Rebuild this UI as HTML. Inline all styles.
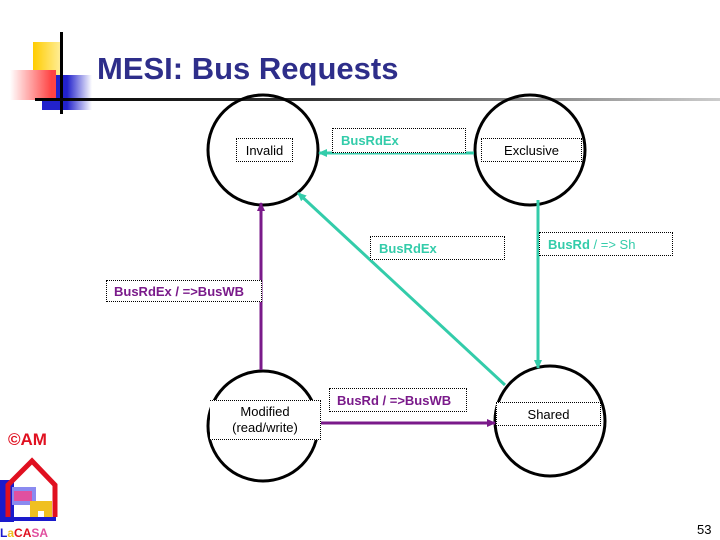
<!DOCTYPE html>
<html><head><meta charset="utf-8"><style>
body{margin:0;width:720px;height:540px;background:#fff;overflow:hidden;font-family:"Liberation Sans",sans-serif;position:relative}
.a{position:absolute}
.lb{position:absolute;background:#fff;border:1px dotted #000;box-sizing:border-box;font-size:13px;display:flex;align-items:center}
</style></head><body>
<div class="a" style="left:33px;top:42px;width:28px;height:34px;background:linear-gradient(90deg,#fc0,#fe9)"></div>
<div class="a" style="left:42px;top:75px;width:50px;height:35px;background:linear-gradient(90deg,#22c,#22c 50%,#fff)"></div>
<div class="a" style="left:10px;top:70px;width:46px;height:30px;background:linear-gradient(90deg,#fff,#f44 90%)"></div>
<div class="a" style="left:60px;top:32px;width:3px;height:82px;background:#000"></div>
<div class="a" style="left:35px;top:98px;width:685px;height:3px;background:linear-gradient(90deg,#000,#333 40%,#ccc)"></div>
<div class="a" style="left:97px;top:51px;font-size:31px;font-weight:bold;color:#2e2e8a">MESI: Bus Requests</div>

<svg class="a" style="left:0;top:0" width="720" height="540">
<defs>
<marker id="t" markerUnits="userSpaceOnUse" markerWidth="9" markerHeight="8" refX="8" refY="4" orient="auto"><path d="M0,0L9,4L0,8z" fill="#33ccaa"/></marker>
<marker id="p" markerUnits="userSpaceOnUse" markerWidth="9" markerHeight="8" refX="8" refY="4" orient="auto"><path d="M0,0L9,4L0,8z" fill="#7a1a8a"/></marker>
</defs>
<g fill="none" stroke="#000" stroke-width="3">
<circle cx="263" cy="150" r="55"/><circle cx="530" cy="150" r="55"/>
<circle cx="263" cy="426" r="55"/><circle cx="550" cy="421" r="55"/>
</g>
<g stroke="#33ccaa" stroke-width="3">
<line x1="474" y1="153" x2="319" y2="153" marker-end="url(#t)"/>
<line x1="505" y1="385" x2="298" y2="193" marker-end="url(#t)"/>
<line x1="538" y1="200" x2="538" y2="368" marker-end="url(#t)"/>
</g>
<g stroke="#7a1a8a" stroke-width="3">
<line x1="261" y1="370" x2="261" y2="203" marker-end="url(#p)"/>
<line x1="318" y1="423" x2="495" y2="423" marker-end="url(#p)"/>
</g>
</svg>

<div class="lb" style="left:236px;top:138px;width:57px;height:24px;justify-content:center">Invalid</div>
<div class="lb" style="left:332px;top:128px;width:134px;height:25px;padding-left:8px;color:#33ccaa;font-weight:bold">BusRdEx</div>
<div class="lb" style="left:481px;top:138px;width:101px;height:24px;justify-content:center">Exclusive</div>
<div class="lb" style="left:370px;top:236px;width:135px;height:24px;padding-left:8px;color:#33ccaa;font-weight:bold">BusRdEx</div>
<div class="lb" style="left:539px;top:232px;width:134px;height:24px;padding-left:8px;color:#33ccaa"><b>BusRd</b>&nbsp;/ =&gt; Sh</div>
<div class="lb" style="left:106px;top:280px;width:156px;height:22px;padding-left:7px;color:#7a1a8a;font-weight:bold">BusRdEx / =&gt;BusWB</div>
<div class="lb" style="left:210px;top:400px;width:111px;height:40px;justify-content:center;text-align:center;line-height:16px;border-left:none">Modified<br>(read/write)</div>
<div class="lb" style="left:329px;top:388px;width:138px;height:24px;padding-left:7px;color:#7a1a8a;font-weight:bold">BusRd / =&gt;BusWB</div>
<div class="lb" style="left:496px;top:402px;width:105px;height:24px;justify-content:center">Shared</div>

<div class="a" style="left:8px;top:430px;font-size:17px;font-weight:bold;color:#e01020">©AM</div>
<svg class="a" style="left:0;top:455px" width="60" height="70">
<rect x="0" y="25" width="14" height="42" fill="#1a1acc"/>
<path d="M8,62 V30 L32,6 L55,30 V62" fill="none" stroke="#e01020" stroke-width="5"/>
<rect x="12" y="32" width="24" height="18" fill="#8a8af0"/>
<rect x="14" y="36" width="18" height="10" fill="#e050a0"/>
<rect x="30" y="46" width="22" height="20" fill="#f0c020"/>
<rect x="38" y="56" width="6" height="6" fill="#fff"/>
<rect x="8" y="62" width="48" height="4" fill="#1a1acc"/>
</svg>
<div class="a" style="left:0;top:526px;font-size:12px;font-weight:bold"><span style="color:#1a1acc">L</span><span style="color:#f0c020">a</span><span style="color:#e01020">CA</span><span style="color:#e050a0">SA</span></div>
<div class="a" style="left:697px;top:522px;font-size:13px">53</div>
</body></html>
